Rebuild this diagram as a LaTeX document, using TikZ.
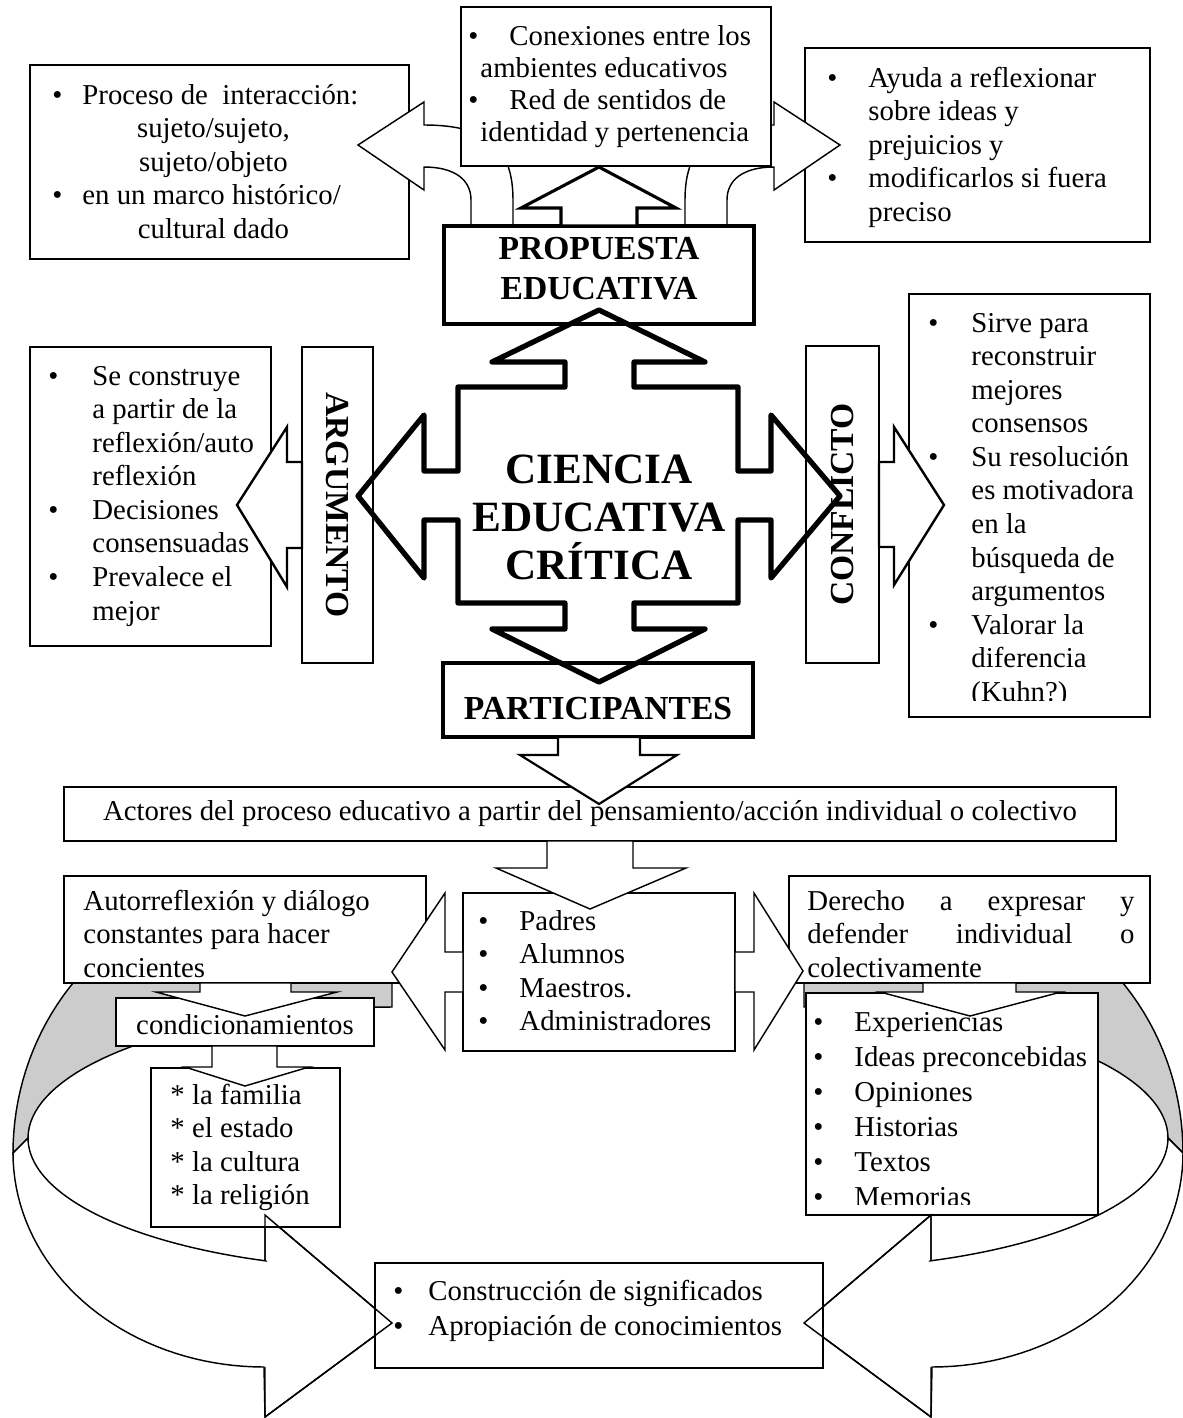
\documentclass[tikz,border=0pt]{standalone}
\usepackage{fontspec}
\setmainfont{Liberation Serif}[BoldFont={Liberation Serif Bold}]
\usetikzlibrary{fit}

\newlength{\pxu}
\setlength{\pxu}{0.4167pt}
\newcommand{\bl}[1]{\makebox[#1\pxu][l]{\textbullet}}
\newcommand{\sg}[1]{\hspace{#1\pxu}}

\tikzset{
  caja/.style={draw, fill=white, inner sep=0pt, line width=0.6pt},
  cajagruesa/.style={caja, line width=1.3pt},
  cajamedia/.style={caja, line width=1pt},
  txt/.style={inner sep=0pt, anchor=north west},
  titulo/.style={font=\bfseries\fontsize{14}{16.7}\selectfont, align=center, inner sep=0pt},
  flecha/.style={draw, fill=white, line width=0.6pt, line join=miter},
}

% banda curva de abajo (lado izquierdo; el derecho es su espejo)
\newcommand{\bandacurva}{%
  \filldraw[fill=gray!40, line width=0.6pt] (392,891) -- (392,1007)
    -- plot[domain=0:90, samples=40] ({392-364*sin(\x)}, {1138-131*cos(\x)})
    -- (13,1153)
    -- plot[domain=0:90, samples=40] ({264-251*cos(\x)}, {1153-262*sin(\x)})
    -- cycle;
  \filldraw[fill=white, line width=0.6pt] (13,1153)
    -- plot[domain=0:90, samples=40] ({264-251*cos(\x)}, {1153+214*sin(\x)})
    -- (265,1417) -- (392,1323) -- (265,1215) -- (265,1260)
    -- plot[domain=20.3:90, samples=40] ({392-364*sin(\x)}, {1138+131*cos(\x)})
    -- cycle;
}
\newcommand{\puntacurva}{%
  \draw[line width=0.6pt] (265,1260) -- (265,1215) -- (392,1323) -- (265,1417) -- (265,1367);
}

\begin{document}
\begin{tikzpicture}[x=0.4167pt, y=-0.4167pt, font=\fontsize{12}{14}\selectfont]
\useasboundingbox (0,0) rectangle (1183,1418);

% arriba
\node[caja, fit={(30,65) (409,259)}] (proceso) {};
\node[txt] (procesoT) at (52,80) {\begin{tabular}{@{}l@{}}
\bl{30}Proceso de\ \ interacción:\\
\sg{30}\makebox[262\pxu]{sujeto/sujeto,}\\
\sg{30}\makebox[262\pxu]{sujeto/objeto}\\
\bl{30}en un marco histórico/\\
\sg{30}\makebox[262\pxu]{cultural dado}
\end{tabular}};

\node[caja, fit={(805,48) (1150,242)}] (ayuda) {};
\node[txt] (ayudaT) at (827,63) {\begin{tabular}{@{}l@{}}
\bl{41}Ayuda a reflexionar\\
\sg{41}sobre ideas y\\
\sg{41}prejuicios y\\
\bl{41}modificarlos si fuera\\
\sg{41}preciso
\end{tabular}};

\path[flecha] (471,226) -- (471,200) .. controls (471,180) and (455,167) .. (424,167)
  -- (424,190) -- (358,145) -- (424,102) -- (424,125)
  .. controls (490,125) and (513,150) .. (513,200) -- (513,226) -- cycle;
\path[flecha] (727,226) -- (727,200) .. controls (727,180) and (743,167) .. (774,167)
  -- (774,190) -- (840,145) -- (774,102) -- (774,125)
  .. controls (708,125) and (685,150) .. (685,200) -- (685,226) -- cycle;

\node[caja, fit={(461,7) (771,166)}] (conex) {};
\node[txt] (conexT) at (468,23) {\renewcommand{\arraystretch}{0.95}\begin{tabular}{@{}l@{}}
\bl{41}Conexiones entre los\\
\sg{12}ambientes educativos\\
\bl{41}Red de sentidos de\\
\sg{12}identidad y pertenencia
\end{tabular}};

\node[cajagruesa, fit={(444,226) (754,324)}] (propuesta) {};
\node[titulo, yshift=6\pxu] (propuestaT) at (propuesta.center) {PROPUESTA\\EDUCATIVA};
\path[flecha, line width=1.3pt] (561,226) -- (561,208) -- (521,208) -- (599,167)
  -- (676,208) -- (637,208) -- (637,226) -- cycle;

% izquierda
\node[caja, fit={(30,347) (271,646)}] (construye) {};
\node[txt] (construyeT) at (48,361) {\begin{tabular}{@{}l@{}}
\bl{44}Se construye\\
\sg{44}a partir de la\\
\sg{44}reflexión/auto\\
\sg{44}reflexión\\
\bl{44}Decisiones\\
\sg{44}consensuadas\\
\bl{44}Prevalece el\\
\sg{44}mejor
\end{tabular}};
\node[cajamedia, fit={(302,347) (373,663)}] (argum) {};
\node[titulo, rotate=-90] (argumT) at (argum.center) {ARGUMENTO};
\path[flecha, line width=1pt] (302,462) -- (287,462) -- (287,427) -- (237,505)
  -- (287,587) -- (287,548) -- (302,548) -- cycle;

% derecha
\node[caja, fit={(909,294) (1150,717)}] (sirve) {};
\begin{scope}
\clip (909,294) rectangle (1150,700);
\node[txt] (sirveT) at (928,308) {\begin{tabular}{@{}l@{}}
\bl{43}Sirve para\\
\sg{43}reconstruir\\
\sg{43}mejores\\
\sg{43}consensos\\
\bl{43}Su resolución\\
\sg{43}es motivadora\\
\sg{43}en la\\
\sg{43}búsqueda de\\
\sg{43}argumentos\\
\bl{43}Valorar la\\
\sg{43}diferencia\\
\sg{43}(Kuhn?)
\end{tabular}};
\end{scope}
\node[cajamedia, fit={(806,346) (879,663)}] (conflic) {};
\node[titulo, rotate=90] (conflicT) at (conflic.center) {CONFLICTO};
\path[flecha, line width=1pt] (879,462) -- (894,462) -- (894,427) -- (944,505)
  -- (894,585) -- (894,547) -- (879,547) -- cycle;

\node[cajagruesa, fit={(443,663) (753,737)}] (partic) {};
\node[titulo, yshift=-9\pxu] (particT) at (partic.center) {PARTICIPANTES};

% cruz central
\draw[line width=2.2pt, line join=round] (599,310) -- (705,362) -- (634,362) -- (634,387)
  -- (738,387) -- (738,471) -- (771,471) -- (771,415) -- (840,496) -- (771,578)
  -- (771,520) -- (738,520) -- (738,603) -- (634,603) -- (634,629) -- (705,629)
  -- (599,682) -- (492,629) -- (565,629) -- (565,603) -- (458,603) -- (458,520)
  -- (424,520) -- (424,578) -- (358,496) -- (424,415) -- (424,471) -- (458,471)
  -- (458,387) -- (565,387) -- (565,362) -- (492,362) -- cycle;
\node[font=\bfseries\fontsize{18}{20}\selectfont, align=center, inner sep=0pt] (ciencia)
  at (599,517) {CIENCIA\\EDUCATIVA\\CRÍTICA};

% abajo
\bandacurva
\begin{scope}[xshift=1196\pxu, xscale=-1]
\bandacurva
\end{scope}

\node[caja, fit={(64,787) (1116,841)}] (actores) {};
\path[flecha, line width=0.9pt] (558,737) -- (558,755) -- (520,755) -- (599,804)
  -- (677,755) -- (640,755) -- (640,737) -- cycle;

\node[caja, fit={(64,876) (426,983)}] (autorref) {};
\node[txt] (autorrefT) at (83,886) {\begin{tabular}{@{}l@{}}
Autorreflexión y diálogo\\
constantes para hacer\\
concientes
\end{tabular}};
\node[caja, fit={(789,876) (1150,983)}] (derecho) {};
\node[txt] (derechoT) at (807,886) {\begin{tabular}{@{}l@{}}
\makebox[327\pxu][s]{Derecho a expresar y}\\
\makebox[327\pxu][s]{defender individual o}\\
colectivamente
\end{tabular}};
\node[caja, fit={(463,893) (735,1051)}] (padres) {};
\node[txt] (padresT) at (478,906) {\begin{tabular}{@{}l@{}}
\bl{41}Padres\\
\bl{41}Alumnos\\
\bl{41}Maestros.\\
\bl{41}Administradores
\end{tabular}};
\node[caja, fit={(116,998) (374,1046)}] (condic) {};
\node[caja, fit={(151,1068) (340,1227)}] (relig) {};
\node[txt] (religT) at (170,1080) {\begin{tabular}{@{}l@{}}
{*} la familia\\
{*} el estado\\
{*} la cultura\\
{*} la religión
\end{tabular}};
\node[caja, fit={(806,993) (1098,1215)}] (experi) {};
\begin{scope}
\clip (806,993) rectangle (1098,1204);
\node[txt] (experiT) at (813,1007) {\renewcommand{\arraystretch}{1.04}\begin{tabular}{@{}l@{}}
\bl{41}Experiencias\\
\bl{41}Ideas preconcebidas\\
\bl{41}Opiniones\\
\bl{41}Historias\\
\bl{41}Textos\\
\bl{41}Memorias
\end{tabular}};
\end{scope}
\node[caja, fit={(375,1263) (823,1368)}] (constr) {};
\node[txt] (constrT) at (393,1275) {\renewcommand{\arraystretch}{1.05}\begin{tabular}{@{}l@{}}
\bl{35}Construcción de significados\\
\bl{35}Apropiación de conocimientos
\end{tabular}};

% flechas entre cajas
\path[flecha] (547,841) -- (547,868) -- (496,868) -- (590,909) -- (686,868) -- (633,868) -- (633,841) -- cycle;
\path[flecha] (463,952) -- (445,952) -- (445,893) -- (392,972) -- (445,1050) -- (445,992) -- (463,992) -- cycle;
\path[flecha] (735,952) -- (754,952) -- (754,893) -- (803,971) -- (754,1050) -- (754,992) -- (735,992) -- cycle;
\path[flecha] (200,983) -- (200,992) -- (156,992) -- (245,1016) -- (337,992) -- (291,992) -- (291,983) -- cycle;
\path[flecha] (212,1046) -- (212,1067) -- (185,1067) -- (245,1086) -- (309,1067) -- (277,1067) -- (277,1046) -- cycle;
\path[flecha] (923,983) -- (923,992) -- (880,992) -- (970,1016) -- (1061,992) -- (1016,992) -- (1016,983) -- cycle;

\node[inner sep=0pt] (actoresT) at (actores.center)
  {Actores del proceso educativo a partir del pensamiento/acción individual o colectivo};
\node[inner sep=0pt, yshift=-3\pxu] (condicT) at (condic.center) {condicionamientos};

\puntacurva
\begin{scope}[xshift=1196\pxu, xscale=-1]
\puntacurva
\end{scope}
\end{tikzpicture}
\end{document}
